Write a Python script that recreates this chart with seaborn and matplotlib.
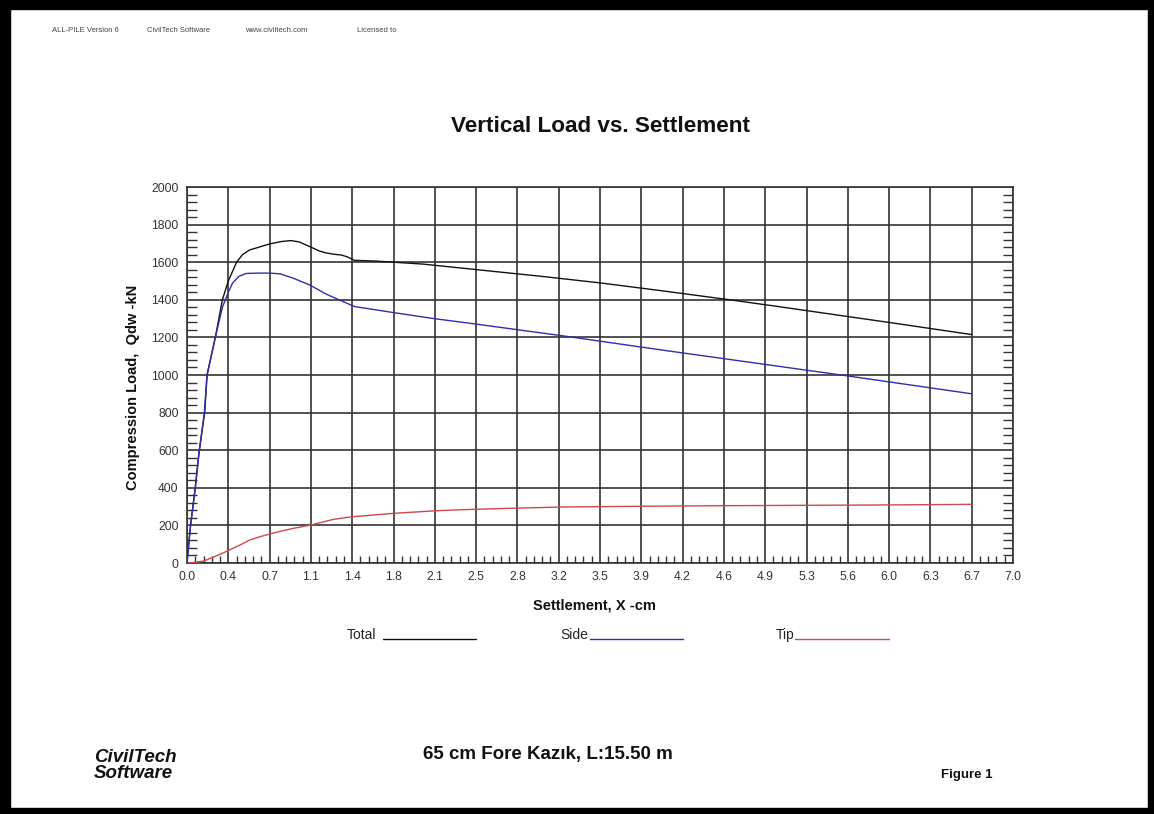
import numpy as np
import pandas as pd
import matplotlib
matplotlib.use("Agg")
import matplotlib.pyplot as plt
import seaborn as sns
from matplotlib.ticker import MultipleLocator, FixedLocator
from matplotlib.lines import Line2D
from matplotlib.patches import Rectangle

# ---------------- data ----------------
total_x = [0.0, 0.03, 0.07, 0.10, 0.15, 0.17, 0.24, 0.30, 0.35, 0.42, 0.47, 0.53, 0.62, 0.70,
           0.80, 0.88, 0.95, 1.04, 1.12, 1.18, 1.25, 1.31, 1.36, 1.42, 1.60, 1.75, 2.00, 2.40,
           3.00, 3.50, 4.00, 4.60, 5.00, 5.50, 6.00, 6.65]
total_y = [0, 200, 400, 580, 800, 1000, 1200, 1400, 1500, 1600, 1640, 1665, 1682, 1697,
           1710, 1715, 1708, 1683, 1660, 1649, 1642, 1638, 1628, 1610, 1606, 1600, 1590, 1564,
           1525, 1490, 1450, 1400, 1365, 1320, 1275, 1215]

side_x = [0.0, 0.03, 0.07, 0.105, 0.147, 0.17, 0.24, 0.30, 0.35, 0.385, 0.44, 0.50, 0.60,
          0.70, 0.79, 0.90, 1.04, 1.18, 1.31, 1.42, 1.75, 2.08, 2.40, 3.20, 4.00, 4.80,
          5.60, 6.65]
side_y = [0, 200, 400, 600, 800, 1000, 1200, 1360, 1440, 1488, 1525, 1540, 1542,
          1542, 1538, 1515, 1479, 1430, 1394, 1364, 1332, 1301, 1275, 1207, 1135, 1065,
          995, 900]

tip_x = [0.0, 0.07, 0.14, 0.25, 0.36, 0.45, 0.53, 0.62, 0.70, 0.80, 0.90, 1.05, 1.24, 1.40,
         1.75, 2.11, 2.40, 2.80, 3.20, 3.90, 4.60, 5.30, 6.00, 6.65]
tip_y = [0, 4, 10, 38, 69, 96, 122, 140, 154, 170, 184, 202, 232, 246,
         264, 278, 285, 292, 298, 302, 305, 307, 309, 312]

series_names = ["Total", "Side", "Tip"]
series_colors = ["#111111", "#2e2eaa", "#cc4a4a"]

x_ticks = [0.35 * i for i in range(21)]
x_tick_labels = ["0.0", "0.4", "0.7", "1.1", "1.4", "1.8", "2.1", "2.5", "2.8", "3.2", "3.5",
                 "3.9", "4.2", "4.6", "4.9", "5.3", "5.6", "6.0", "6.3", "6.7", "7.0"]
y_ticks = [0, 200, 400, 600, 800, 1000, 1200, 1400, 1600, 1800, 2000]

df = pd.concat([
    pd.DataFrame({"x": total_x, "y": total_y, "s": "Total"}),
    pd.DataFrame({"x": side_x, "y": side_y, "s": "Side"}),
    pd.DataFrame({"x": tip_x, "y": tip_y, "s": "Tip"}),
], ignore_index=True)

# ---------------- figure ----------------
sns.set_theme(style="white")
plt.rcParams["font.family"] = ["Liberation Sans", "DejaVu Sans"]

W, H = 1154, 814
fig = plt.figure(figsize=(W / 100, H / 100), dpi=100)
fig.patch.set_facecolor("white")

def fx(px):
    return px / W

def fy(py):
    return 1 - py / H

ax = fig.add_axes([fx(187), fy(563), fx(1013) - fx(187), fy(187) - fy(563)])

for name, col in zip(series_names, series_colors):
    sub = df[df["s"] == name]
    sns.lineplot(data=sub, x="x", y="y", sort=False, estimator=None, color=col,
                 linewidth=1.0, ax=ax, legend=False, zorder=3)

ax.set_xlim(0, 7.0)
ax.set_ylim(0, 2000)
ax.xaxis.set_major_locator(FixedLocator(x_ticks))
ax.set_xticklabels(x_tick_labels)
ax.yaxis.set_major_locator(FixedLocator(y_ticks))
ax.xaxis.set_minor_locator(MultipleLocator(0.07))
ax.yaxis.set_minor_locator(MultipleLocator(40))
ax.grid(True, which="major", color="#333333", linewidth=1.2)
ax.set_axisbelow(True)
for sp in ax.spines.values():
    sp.set_color("#333333")
    sp.set_linewidth(1.2)
ax.tick_params(axis="both", which="major", length=0, labelsize=8.7, labelcolor="#333333", pad=6)
ax.tick_params(axis="x", which="minor", direction="in", length=5, width=1, color="#333333",
               bottom=True, top=False)
ax.tick_params(axis="y", which="minor", direction="in", length=7, width=1, color="#333333",
               left=True, right=True)
ax.set_xlabel("")
ax.set_ylabel("")

# axis labels
fig.text(fx(594), fy(606), "Settlement, X -cm", ha="center", va="center",
         fontsize=10.5, fontweight="bold", color="#111111")
fig.text(fx(133), fy(387), "Compression Load,  Qdw -kN", ha="center", va="center",
         rotation=90, fontsize=10.5, fontweight="bold", color="#111111")

# title
fig.text(fx(600), fy(127), "Vertical Load vs. Settlement", ha="center", va="center",
         fontsize=16.2, fontweight="bold", color="#111111")

# header
for px, s in [(52, "ALL-PILE Version 6"), (147, "CivilTech Software"),
              (245, "www.civiltech.com"), (357, "Licensed to")]:
    fig.text(fx(px), fy(31), s, ha="left", va="center", fontsize=5.5, color="#444444")

# custom legend (label text, then a short line sample)
leg_text = [(347, "left"), (588, "right"), (794, "right")]
leg_lines = [(383, 476), (590, 683), (795, 889)]
for (tx, ha), (lx0, lx1), name, col in zip(leg_text, leg_lines, series_names, series_colors):
    fig.text(fx(tx), fy(635), name, ha=ha, va="center", fontsize=10, color="#222222")
    fig.add_artist(Line2D([fx(lx0), fx(lx1)], [fy(639), fy(639)], color=col, linewidth=1.0,
                          transform=fig.transFigure))

# footer
fig.text(fx(548), fy(755), "65 cm Fore Kazık, L:15.50 m", ha="center", va="center",
         fontsize=13.5, fontweight="bold", color="#111111")
fig.text(fx(94), fy(757), "CivilTech", ha="left", va="center", fontsize=13.5,
         fontweight="bold", fontstyle="italic", color="#111111")
fig.text(fx(94), fy(774), "Software", ha="left", va="center", fontsize=13.5,
         fontweight="bold", fontstyle="italic", color="#111111")
fig.text(fx(967), fy(775), "Figure 1", ha="center", va="center", fontsize=9.5,
         fontweight="bold", color="#111111")

# thick black frame
fig.add_artist(Rectangle((0, 0), fx(10), 1, transform=fig.transFigure, color="black", zorder=10))
fig.add_artist(Rectangle((0, fy(9)), 1, 9 / H, transform=fig.transFigure, color="black", zorder=10))
fig.add_artist(Rectangle((fx(1148), 0), 6 / W, 1, transform=fig.transFigure, color="black", zorder=10))
fig.add_artist(Rectangle((0, 0), 1, 6 / H, transform=fig.transFigure, color="black", zorder=10))

fig.savefig("out.png", dpi=100)
